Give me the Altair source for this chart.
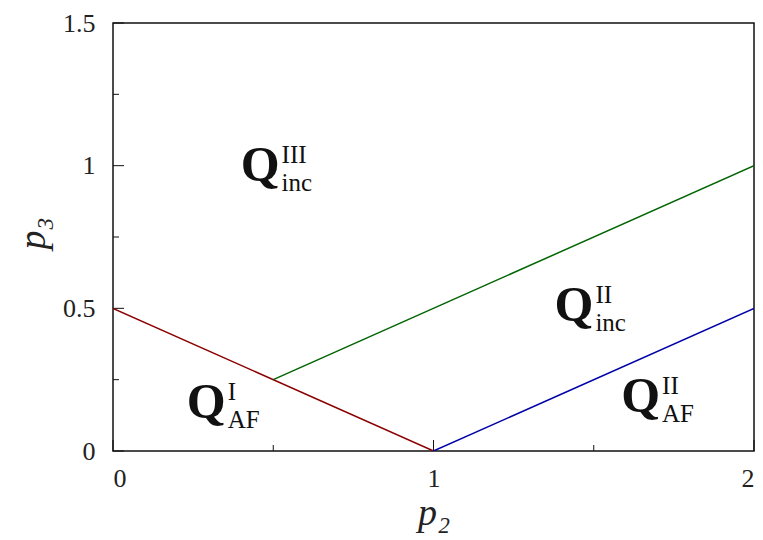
import altair as alt
import pandas as pd

# line data
red_p2 = [0.0, 1.0]
red_p3 = [0.5, 0.0]
green_p2 = [0.5, 2.0]
green_p3 = [0.25, 1.0]
blue_p2 = [1.0, 2.0]
blue_p3 = [0.0, 0.5]

# region labels
label_sup = ["III", "II", "I", "II"]
label_sub = ["inc", "inc", "AF", "AF"]
label_p2 = [0.523, 1.502, 0.355, 1.71]
label_p3 = [0.948, 0.455, 0.115, 0.135]

# ticks
x_major = [0, 1, 2]
x_minor = [0.5, 1.5]
y_major = [0, 0.5, 1, 1.5]
y_minor = [0.25, 0.75, 1.25]

W, H = 641, 428
FONT = "Liberation Serif"

rows = []
for name, xs_, ys_ in [("red", red_p2, red_p3), ("green", green_p2, green_p3), ("blue", blue_p2, blue_p3)]:
    for i, (a, b) in enumerate(zip(xs_, ys_)):
        rows.append({"series": name, "p2": a, "p3": b, "order": i})
lines_df = pd.DataFrame(rows)

lab_df = pd.DataFrame({"p2": label_p2, "p3": label_p3, "sup": label_sup, "sub": label_sub, "Q": ["Q"] * 4})

xs = alt.Scale(domain=[0, 2], nice=False, zero=False)
ys = alt.Scale(domain=[0, 1.5], nice=False, zero=False)

xenc = alt.X("p2:Q", scale=xs, axis=alt.Axis(values=x_major, format="~g", title="p₂",
                                             labelPadding=14, titleX=W / 2, titleY=62,
                                             titleBaseline="middle"))
yenc = alt.Y("p3:Q", scale=ys, axis=alt.Axis(values=y_major, format="~g", title="p₃",
                                             labelPadding=18, titleX=-80, titleY=210,
                                             titleBaseline="middle", titleAngle=270))

lines = alt.Chart(lines_df).mark_line(strokeWidth=1.5, clip=True).encode(
    x=xenc, y=yenc, order="order:Q",
    color=alt.Color("series:N", scale=alt.Scale(domain=["red", "green", "blue"],
                                                range=["#8b0000", "#006400", "#0000a8"]), legend=None),
)

qtext = alt.Chart(lab_df).mark_text(font=FONT, fontSize=50, fontWeight="bold", align="right",
                                    baseline="alphabetic", dx=-1, color="#111").encode(
    x=alt.X("p2:Q", scale=xs), y=alt.Y("p3:Q", scale=ys), text="Q:N")
suptext = alt.Chart(lab_df).mark_text(font=FONT, fontSize=25, align="left",
                                      baseline="alphabetic", dx=1, dy=-18, color="#111").encode(
    x=alt.X("p2:Q", scale=xs), y=alt.Y("p3:Q", scale=ys), text="sup:N")
subtext = alt.Chart(lab_df).mark_text(font=FONT, fontSize=25, align="left",
                                      baseline="alphabetic", dx=1, dy=10, color="#111").encode(
    x=alt.X("p2:Q", scale=xs), y=alt.Y("p3:Q", scale=ys), text="sub:N")

ymaj = alt.Chart(pd.DataFrame({"p3": y_major})).mark_rule(color="#111", strokeWidth=1).encode(
    y=alt.Y("p3:Q", scale=ys), x=alt.value(0), x2=alt.value(11))
ymin = alt.Chart(pd.DataFrame({"p3": y_minor})).mark_rule(color="#111", strokeWidth=1).encode(
    y=alt.Y("p3:Q", scale=ys), x=alt.value(0), x2=alt.value(6))
xmaj = alt.Chart(pd.DataFrame({"p2": x_major})).mark_rule(color="#111", strokeWidth=1).encode(
    x=alt.X("p2:Q", scale=xs), y=alt.value(H), y2=alt.value(H - 11))
xmin = alt.Chart(pd.DataFrame({"p2": x_minor})).mark_rule(color="#111", strokeWidth=1).encode(
    x=alt.X("p2:Q", scale=xs), y=alt.value(H), y2=alt.value(H - 6))

chart = alt.layer(ymaj, ymin, xmaj, xmin, lines, qtext, suptext, subtext).properties(
    width=W, height=H,
    autosize=alt.AutoSizeParams(type="none"),
    padding={"left": 105, "top": 15, "right": 1, "bottom": 86},
).configure_view(stroke="#111", strokeWidth=1.5).configure_axis(
    domain=False, ticks=False, grid=False,
    labelFont=FONT, labelFontSize=26, labelColor="#222",
    titleFont=FONT, titleFontSize=38, titleFontStyle="italic", titleFontWeight="normal", titleColor="#222",
)

chart.save("out.html", embed_options={"renderer": "svg", "actions": False})
